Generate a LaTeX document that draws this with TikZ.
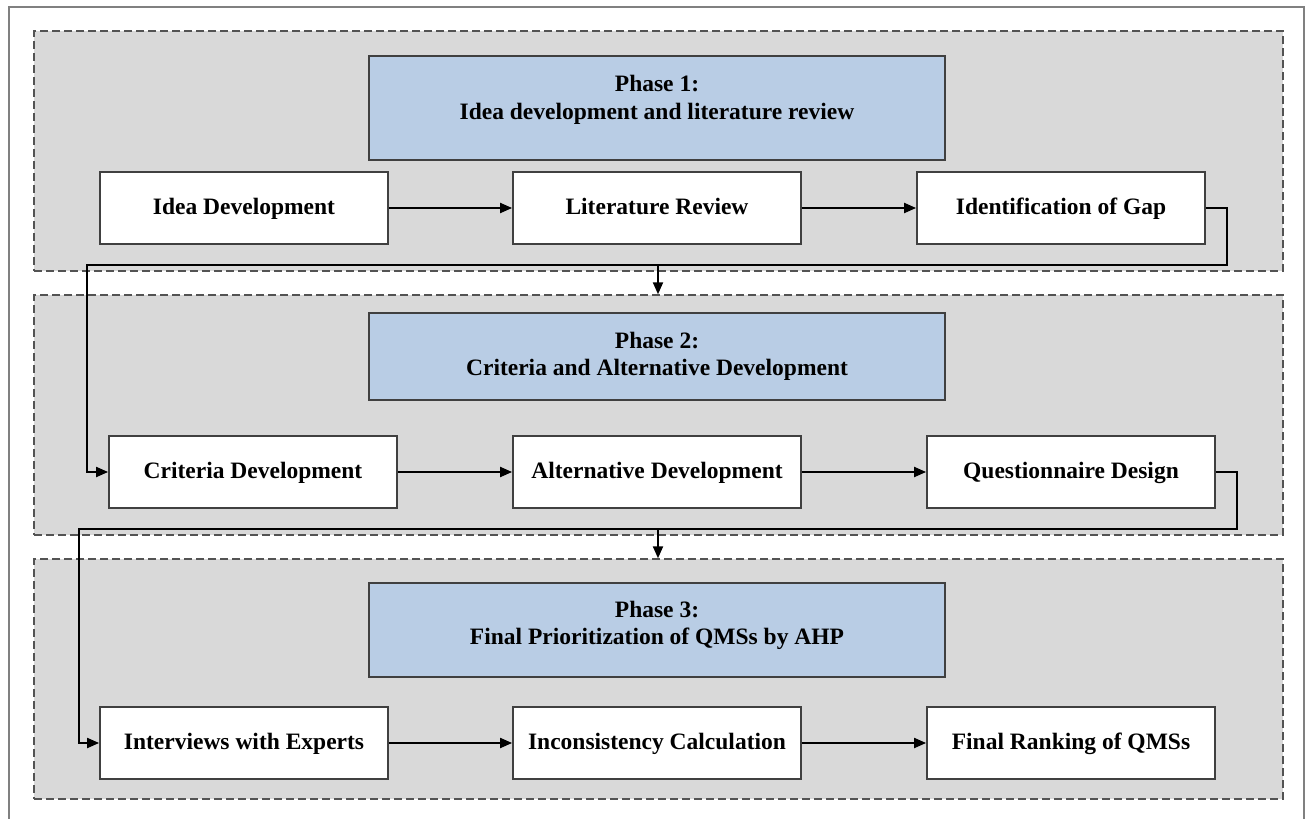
\documentclass[tikz,border=0pt]{standalone}
\usepackage{fontspec}
\setmainfont{Liberation Serif}
\usetikzlibrary{arrows.meta}
\definecolor{panelgray}{HTML}{D9D9D9}
\definecolor{phaseblue}{HTML}{B9CDE5}
\definecolor{edgegray}{HTML}{404040}
\begin{document}
\begin{tikzpicture}
    [%%%%%%%%%%%%%%%%%%%%%%%%%%%%%%
        x=1pt, y=-1pt,
        panel/.style={rectangle, draw=edgegray!90, fill=panelgray, line width=1.4pt, dash pattern=on 8pt off 4pt, minimum width=1249pt, minimum height=240pt, inner sep=0pt},
        phase/.style={rectangle, draw=edgegray, fill=phaseblue, line width=1.6pt, minimum width=576pt, inner sep=0pt, align=center, font=\fontsize{23.5}{27.5}\selectfont\bfseries},
        box/.style={rectangle, draw=edgegray, fill=white, line width=1.8pt, minimum width=288pt, minimum height=72pt, inner sep=0pt, text height=16pt, text depth=2.5pt, font=\fontsize{23.5}{27}\selectfont\bfseries},
        link/.style={draw=black, line width=2pt, -{Triangle[length=12pt,width=10pt]}},
    ]%%%%%%%%%%%%%%%%%%%%%%%%%%%%%%
    \useasboundingbox (0,0) rectangle (1307,819);
    \draw[color=gray, line width=1.6pt] (9,7) rectangle (1304,840);

    \node[panel] (panA) at (658.5,151) {};
    \node[panel] (panB) at (658.5,415) {};
    \node[panel] (panC) at (658.5,679) {};

    \node[phase, minimum height=104pt, text depth=21pt] (phaseA) at (657,108) {Phase 1:\\Idea development and literature review};
    \node[phase, minimum height=87pt] (phaseB) at (657,356.5) {Phase 2:\\Criteria and Alternative Development};
    \node[phase, minimum height=94pt, text depth=14pt] (phaseC) at (657,630) {Phase 3:\\Final Prioritization of QMSs by AHP};

    \node[box] (idea) at (244,208) {Idea Development};
    \node[box] (lit) at (657,208) {Literature Review};
    \node[box] (gap) at (1061,208) {Identification of Gap};

    \node[box] (crit) at (253,472) {Criteria Development};
    \node[box] (alt) at (657,472) {Alternative Development};
    \node[box] (quest) at (1071,472) {Questionnaire Design};

    \node[box] (interv) at (244,743) {Interviews with Experts};
    \node[box] (incons) at (657,743) {Inconsistency Calculation};
    \node[box] (rank) at (1071,743) {Final Ranking of QMSs};

    % phase 1 -> phase 2
    \coordinate (turnA) at (1227,265);
    \coordinate (turnB) at (87,265);
    \coordinate (dropA) at (658,265);
    \draw[link] (idea) -- (lit);
    \draw[link] (lit) -- (gap);
    \draw[link] (gap.east) -| (turnA) -- (turnB) |- (crit.west);
    \draw[link] (dropA) -- (dropA |- panB.north);

    % phase 2 -> phase 3
    \coordinate (turnC) at (1237,529);
    \coordinate (turnD) at (79,529);
    \coordinate (dropB) at (658,529);
    \draw[link] (crit) -- (alt);
    \draw[link] (alt) -- (quest);
    \draw[link] (quest.east) -| (turnC) -- (turnD) |- (interv.west);
    \draw[link] (dropB) -- (dropB |- panC.north);

    \draw[link] (interv) -- (incons);
    \draw[link] (incons) -- (rank);
\end{tikzpicture}
\end{document}
